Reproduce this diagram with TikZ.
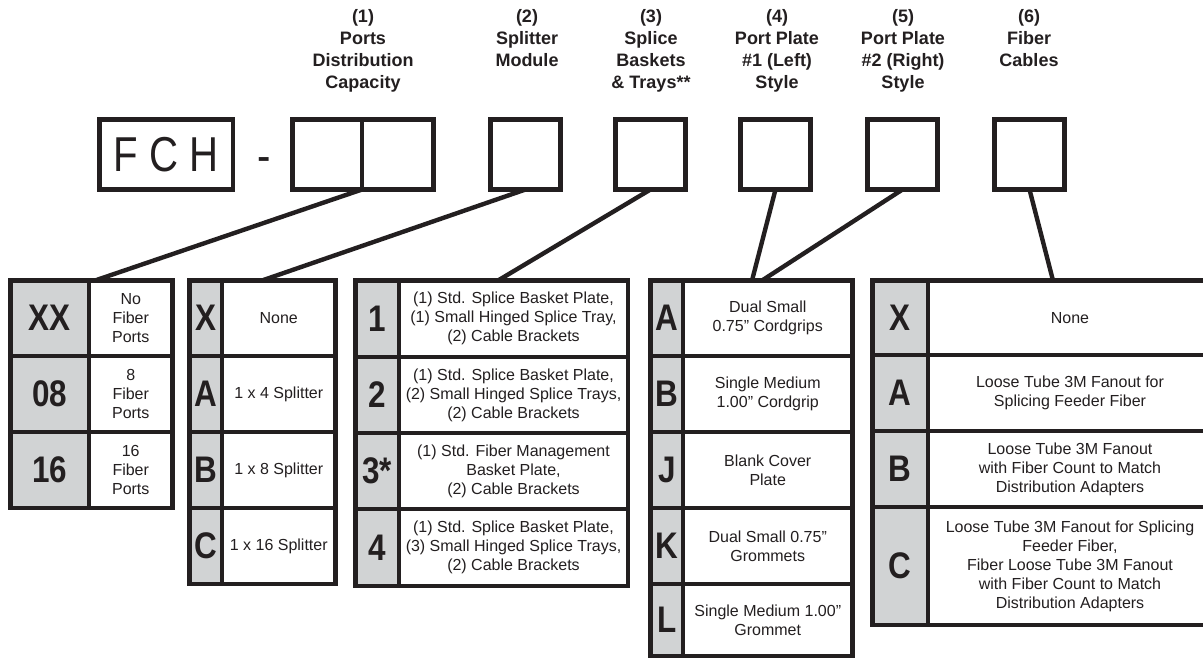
\documentclass[tikz,border=0pt]{standalone}
\usepackage{fontspec}
\setmainfont{Liberation Sans}
\newfontfamily\condfont[FakeStretch=0.85]{Liberation Sans}
\newfontfamily\fchfont[FakeStretch=0.82]{Liberation Sans}
\definecolor{ink}{HTML}{231F20}
\definecolor{cellgray}{HTML}{D1D3D4}
\tikzset{
  hdrbox/.style={draw=ink, line width=4.8pt, inner sep=0pt, outer sep=0pt},
  conn/.style={draw=ink, line width=4.4pt},
  txtcell/.style={draw=ink, line width=4.6pt, fill=white, inner sep=0pt, outer sep=0pt,
    align=center, text=ink, font=\fontsize{16}{19}\selectfont},
  lettercell/.style={txtcell, fill=cellgray, font=\condfont\bfseries\fontsize{37}{40}\selectfont},
  hdrtext/.style={inner sep=0pt, outer sep=0pt, align=center, anchor=north, text=ink,
    font=\bfseries\fontsize{18}{22}\selectfont},
}
% name, x1, x2, y1, y2, style, text
\newcommand\mkcell[7]{\node[#6, minimum width={#3-#2}, minimum height={#5-#4}, anchor=north west] (#1) at (#2,#4) {#7};}
\begin{document}
\begin{tikzpicture}[x=1pt, y=-1pt]
\useasboundingbox (0,0) rectangle (1203,665);
\clip (0,0) rectangle (1203,665);
\fill[white] (0,0) rectangle (1203,665);

% ---- header texts
\node[hdrtext] (h1) at (363,9.5) {(1)\\Ports\\Distribution\\Capacity};
\node[hdrtext] (h2) at (527,9.5) {(2)\\Splitter\\Module};
\node[hdrtext] (h3) at (651,9.5) {(3)\\Splice\\Baskets\\\& Trays**};
\node[hdrtext] (h4) at (777,9.5) {(4)\\Port Plate\\\#1 (Left)\\Style};
\node[hdrtext] (h5) at (903,9.5) {(5)\\Port Plate\\\#2 (Right)\\Style};
\node[hdrtext] (h6) at (1029,9.5) {(6)\\Fiber\\Cables};

% ---- header boxes
\node[hdrbox, minimum width=133.5, minimum height=70, anchor=north west, text=ink,
  font=\fchfont\fontsize{49}{50}\selectfont] (fch) at (99.5,119.5) {F\kern11pt C\kern11pt H};
\node[anchor=base, inner sep=0pt, text=ink, font=\fchfont\fontsize{49}{50}\selectfont] (dash) at (264,172) {-};
\node[hdrbox, minimum width=69.5, minimum height=70, anchor=north west] (p1a) at (292.5,119.5) {};
\node[hdrbox, minimum width=71.5, minimum height=70, anchor=north west] (p1b) at (362,119.5) {};
\node[hdrbox, minimum width=70, minimum height=70, anchor=north west] (b2) at (490.5,119.5) {};
\node[hdrbox, minimum width=70, minimum height=70, anchor=north west] (b3) at (615.5,119.5) {};
\node[hdrbox, minimum width=70, minimum height=70, anchor=north west] (b4) at (740.5,119.5) {};
\node[hdrbox, minimum width=70, minimum height=70, anchor=north west] (b5) at (867.5,119.5) {};
\node[hdrbox, minimum width=70, minimum height=70, anchor=north west] (b6) at (994.5,119.5) {};

% ---- table 1: ports
\mkcell{t1ga}{10.5}{89}{280.5}{356}{lettercell}{XX}
\mkcell{t1wa}{89}{172.5}{280.5}{356}{txtcell}{No\\Fiber\\Ports}
\mkcell{t1gb}{10.5}{89}{356}{432}{lettercell}{08}
\mkcell{t1wb}{89}{172.5}{356}{432}{txtcell}{8\\Fiber\\Ports}
\mkcell{t1gc}{10.5}{89}{432}{508}{lettercell}{16}
\mkcell{t1wc}{89}{172.5}{432}{508}{txtcell}{16\\Fiber\\Ports}

% ---- table 2: splitter
\mkcell{t2ga}{189.5}{222}{280.5}{356}{lettercell}{X}
\mkcell{t2wa}{222}{335.5}{280.5}{356}{txtcell}{None}
\mkcell{t2gb}{189.5}{222}{356}{432}{lettercell}{A}
\mkcell{t2wb}{222}{335.5}{356}{432}{txtcell}{1 x 4 Splitter}
\mkcell{t2gc}{189.5}{222}{432}{508}{lettercell}{B}
\mkcell{t2wc}{222}{335.5}{432}{508}{txtcell}{1 x 8 Splitter}
\mkcell{t2gd}{189.5}{222}{508}{584}{lettercell}{C}
\mkcell{t2wd}{222}{335.5}{508}{584}{txtcell}{1 x 16 Splitter}

% ---- table 3: splice baskets
\mkcell{t3ga}{355.5}{399}{280.5}{357}{lettercell}{1}
\mkcell{t3wa}{399}{628}{280.5}{357}{txtcell}{(1) Std. Splice Basket Plate,\\(1) Small Hinged Splice Tray,\\(2) Cable Brackets}
\mkcell{t3gb}{355.5}{399}{357}{433}{lettercell}{2}
\mkcell{t3wb}{399}{628}{357}{433}{txtcell}{(1) Std. Splice Basket Plate,\\(2) Small Hinged Splice Trays,\\(2) Cable Brackets}
\mkcell{t3gc}{355.5}{399}{433}{509}{lettercell}{3*}
\mkcell{t3wc}{399}{628}{433}{509}{txtcell}{(1) Std. Fiber Management\\Basket Plate,\\(2) Cable Brackets}
\mkcell{t3gd}{355.5}{399}{509}{586}{lettercell}{4}
\mkcell{t3wd}{399}{628}{509}{586}{txtcell}{(1) Std. Splice Basket Plate,\\(3) Small Hinged Splice Trays,\\(2) Cable Brackets}

% ---- table 4: port plate
\mkcell{t4ga}{650.5}{683}{280.5}{356}{lettercell}{A}
\mkcell{t4wa}{683}{852.5}{280.5}{356}{txtcell}{Dual Small\\0.75” Cordgrips}
\mkcell{t4gb}{650.5}{683}{356}{432}{lettercell}{B}
\mkcell{t4wb}{683}{852.5}{356}{432}{txtcell}{Single Medium\\1.00” Cordgrip}
\mkcell{t4gc}{650.5}{683}{432}{508}{lettercell}{J}
\mkcell{t4wc}{683}{852.5}{432}{508}{txtcell}{Blank Cover\\Plate}
\mkcell{t4gd}{650.5}{683}{508}{584}{lettercell}{K}
\mkcell{t4wd}{683}{852.5}{508}{584}{txtcell}{Dual Small 0.75”\\Grommets}
\mkcell{t4ge}{650.5}{683}{584}{656}{lettercell}{L}
\mkcell{t4we}{683}{852.5}{584}{656}{txtcell}{Single Medium 1.00”\\Grommet}

% ---- table 5: fiber cables
\mkcell{t5ga}{872.5}{928}{280.5}{355}{lettercell}{X}
\mkcell{t5wa}{928}{1212}{280.5}{355}{txtcell}{None}
\mkcell{t5gb}{872.5}{928}{355}{431}{lettercell}{A}
\mkcell{t5wb}{928}{1212}{355}{431}{txtcell}{Loose Tube 3M Fanout for\\Splicing Feeder Fiber}
\mkcell{t5gc}{872.5}{928}{431}{507}{lettercell}{B}
\mkcell{t5wc}{928}{1212}{431}{507}{txtcell}{Loose Tube 3M Fanout\\with Fiber Count to Match\\Distribution Adapters}
\mkcell{t5gd}{872.5}{928}{507}{625}{lettercell}{C}
\mkcell{t5wd}{928}{1212}{507}{625}{txtcell}{Loose Tube 3M Fanout for Splicing\\Feeder Fiber,\\Fiber Loose Tube 3M Fanout\\with Fiber Count to Match\\Distribution Adapters}

% ---- connector end points
\coordinate (e1) at (95,280.5);
\coordinate (e2) at (262,280.5);
\coordinate (e3) at (498,280.5);
\coordinate (e4) at (752,280.5);
\coordinate (e5) at (762,280.5);
\coordinate (e6) at (1053,280.5);

% ---- connectors
\draw[conn] (p1a.south east) -- (e1);
\draw[conn] (b2.south) -- (e2);
\draw[conn] (b3.south) -- (e3);
\draw[conn] (b4.south) -- (e4);
\draw[conn] (b5.south) -- (e5);
\draw[conn] (b6.south) -- (e6);
\end{tikzpicture}
\end{document}
